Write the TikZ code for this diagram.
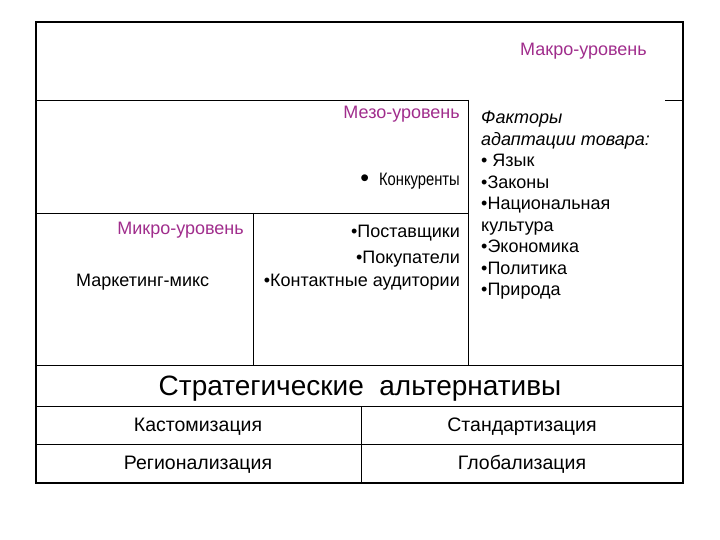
\documentclass[tikz,border=0pt]{standalone}
\usepackage{fontspec}
\usepackage{graphicx}
\setmainfont{Liberation Sans}
\usetikzlibrary{positioning}
\definecolor{levelcolor}{RGB}{160,45,140}

\begin{document}
\begin{tikzpicture}[x=1pt,y=-1pt,
    level/.style={text=levelcolor,font=\fontsize{18}{20}\selectfont,inner sep=0pt},
    item/.style={font=\fontsize{18}{20}\selectfont,inner sep=0pt},
    choice/.style={font=\fontsize{19.5}{22}\selectfont,inner sep=0pt}]
    \useasboundingbox (0,0) rectangle (720,540);
    %%%%% THE FRAME
    \draw[line width=1.6pt] (36,22) rectangle (683,483);
    \begin{scope}[line width=0.9pt]
      \draw (36,100) -- (468,100);
      \draw (665,100) -- (683,100);
      \draw (468,100) -- (468,365);
      \draw (36,213) -- (468,213);
      \draw (253,213) -- (253,365);
      \draw (36,365) -- (683,365);
      \draw (36,406) -- (683,406);
      \draw (36,444) -- (683,444);
      \draw (361,406) -- (361,483);
    \end{scope}
    %%%%% THE LEVELS
    \node[level,anchor=base east] (MACRO) at (647,56) {Макро-уровень};
    \node[level,anchor=base east] (MESO) at (460,119) {Мезо-уровень};
    \node[level,anchor=base east] (MICRO) at (244,235) {Микро-уровень};
    %%%%% THE LEVEL CONTENTS
    \node[item,anchor=base east] (RIVALS) at (460,186)
      {\raisebox{-1pt}{\fontsize{25}{20}\selectfont\textbullet}\ \ \scalebox{0.82}[1]{Конкуренты}};
    \node[item,anchor=base east] (SUPPLY) at (460,237) {\textbullet Поставщики};
    \node[item,anchor=base east] (BUYERS) at (460,263) {\textbullet Покупатели};
    \node[item,anchor=base east] (PUBLIC) at (460,286) {\textbullet Контактные аудитории};
    \node[item,anchor=base west] (MIX) at (76,286) {Маркетинг-микс};
    %%%%% THE FACTORS
    \node[item,anchor=north west,align=left,font=\fontsize{18}{21.5}\selectfont]
      (FACTORS) at (481,111)
      {\textit{Факторы}\\ \textit{адаптации товара:}\\ \textbullet\ Язык\\
       \textbullet Законы\\ \textbullet Национальная\\ культура\\
       \textbullet Экономика\\ \textbullet Политика\\ \textbullet Природа};
    %%%%% THE ALTERNATIVES
    \node[font=\fontsize{28}{30}\selectfont,inner sep=0pt,anchor=base] (STRAT) at (360,395)
      {Стратегические\ \ альтернативы};
    \node[choice,anchor=base] (CUSTOM) at (198,431) {Кастомизация};
    \node[choice,anchor=base] (STANDARD) at (522,431) {Стандартизация};
    \node[choice,anchor=base] (REGION) at (198,469) {Регионализация};
    \node[choice,anchor=base] (GLOBAL) at (522,469) {Глобализация};
\end{tikzpicture}
\end{document}
